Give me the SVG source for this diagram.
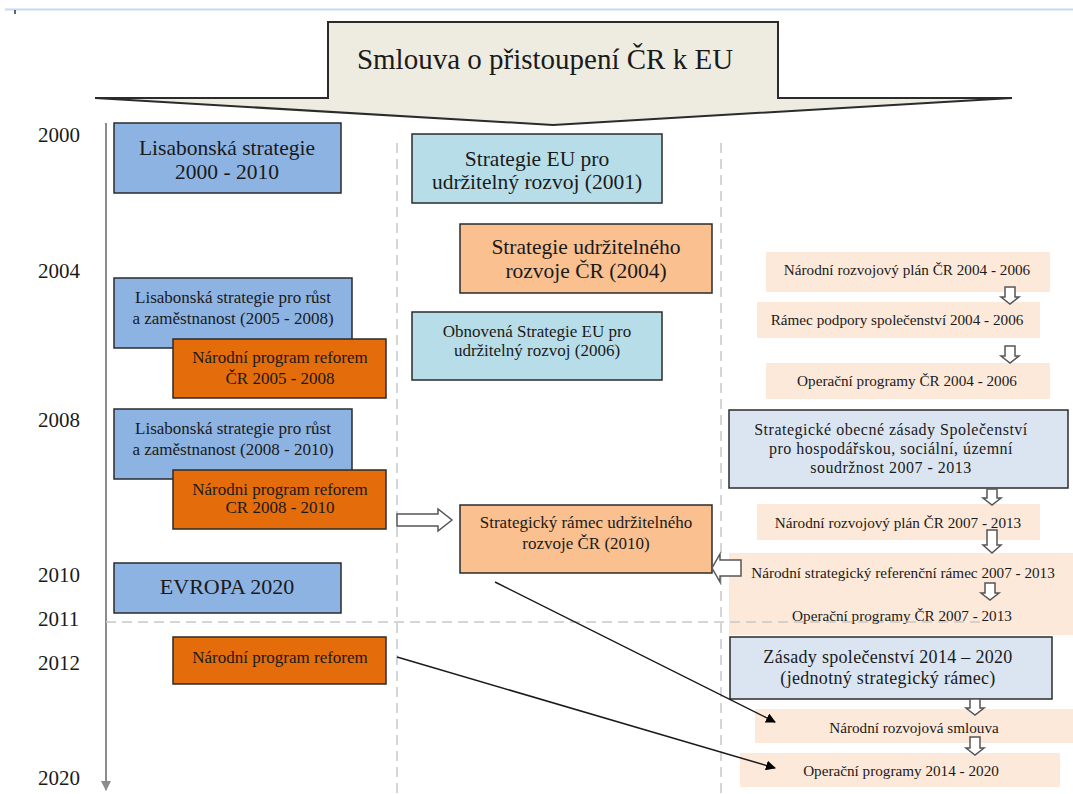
<svg xmlns="http://www.w3.org/2000/svg" width="1073" height="794" viewBox="0 0 1073 794">
  <style>
    text { font-family: "Liberation Serif", "Times New Roman", serif; fill: #1a1a1a; text-anchor: middle; }
    .yr { font-size: 21px; text-anchor: start; }
    .box { stroke: #2b2b2b; stroke-width: 1.5; }
    .blue { fill: #8db3e2; }
    .orange { fill: #e46c0a; }
    .cyan { fill: #b7dee8; }
    .peach { fill: #fac08f; }
    .pale { fill: #fde9d9; }
    .grey { fill: #dbe5f1; }
    .t22 { font-size: 21.5px; }
    .t18 { font-size: 18px; letter-spacing: 0.3px; }
    .t17 { font-size: 17px; }
    .t16 { font-size: 16px; letter-spacing: 0.5px; }
    .t15 { font-size: 15.2px; }
    .hollow { fill: #ffffff; stroke: #555555; stroke-width: 1.5; stroke-linejoin: miter; }
    .guide { stroke: #c8c8c8; stroke-width: 1.5; stroke-dasharray: 10 6; fill: none; }
    .link { stroke: #1a1a1a; stroke-width: 1.5; fill: none; }
  </style>
  <defs>
    <marker id="tri" viewBox="0 0 10 10" refX="9" refY="5" markerWidth="10" markerHeight="10" markerUnits="userSpaceOnUse" orient="auto">
      <path d="M0,0 L10,5 L0,10 z" fill="#000000"/>
    </marker>
    <marker id="axisHead" viewBox="0 0 10 10" refX="5" refY="9" markerWidth="12" markerHeight="10" markerUnits="userSpaceOnUse" orient="0">
      <path d="M0,0 L10,0 L5,10 z" fill="#8c8c8c"/>
    </marker>
  </defs>

  <rect width="1073" height="794" fill="#ffffff"/>

  <!-- page header rule -->
  <line x1="5" y1="9.5" x2="1073" y2="9.5" stroke="#c6d9f1" stroke-width="2"/>
  <line x1="15" y1="10" x2="15" y2="14" stroke="#333333" stroke-width="1.5"/>

  <!-- accession treaty: big downward arrow -->
  <g id="treaty">
    <path d="M328,22 L778,22 L778,98 L1012,98 L553,125 L95,98 L328,98 Z" fill="#eeece1" stroke="#2b2b2b" stroke-width="2" stroke-linejoin="miter"/>
    <text x="545" y="69" font-size="29">Smlouva o přistoupení ČR k EU</text>
  </g>

  <!-- timeline axis and column guides -->
  <g id="guides">
    <line x1="106" y1="123" x2="106" y2="790" stroke="#8c8c8c" stroke-width="2" marker-end="url(#axisHead)"/>
    <line class="guide" x1="397" y1="143" x2="397" y2="794"/>
    <line class="guide" x1="721" y1="143" x2="721" y2="794"/>
  </g>

  <!-- years -->
  <g id="years">
    <text class="yr" x="38" y="142">2000</text>
    <text class="yr" x="38" y="278">2004</text>
    <text class="yr" x="38" y="427">2008</text>
    <text class="yr" x="38" y="582">2010</text>
    <text class="yr" x="38" y="626">2011</text>
    <text class="yr" x="38" y="670">2012</text>
    <text class="yr" x="38" y="785">2020</text>
  </g>

  <!-- left column: Lisbon strategy and national reform programmes -->
  <g id="lisabon-2000">
    <rect class="box blue" x="114" y="123" width="227" height="70"/>
    <text class="t22" x="227" y="155">Lisabonská  strategie</text>
    <text class="t22" x="227" y="179">2000 - 2010</text>
  </g>
  <g id="lisabon-2005">
    <rect class="box blue" x="114" y="278" width="238" height="70"/>
    <text class="t17" x="233" y="303">Lisabonská strategie pro růst</text>
    <text class="t17" x="233" y="324">a zaměstnanost (2005 - 2008)</text>
  </g>
  <g id="npr-2005">
    <rect class="box orange" x="173" y="339" width="213" height="59"/>
    <text class="t17" x="280" y="363">Národní program reforem</text>
    <text class="t17" x="280" y="384">ČR 2005 - 2008</text>
  </g>
  <g id="lisabon-2008">
    <rect class="box blue" x="114" y="409" width="238" height="70"/>
    <text class="t17" x="233" y="434">Lisabonská strategie pro růst</text>
    <text class="t17" x="233" y="455">a zaměstnanost (2008 - 2010)</text>
  </g>
  <g id="npr-2008">
    <rect class="box orange" x="173" y="470" width="213" height="59"/>
    <text class="t17" x="280" y="495">Národni program reforem</text>
    <text class="t17" x="280" y="513">CR 2008 - 2010</text>
  </g>
  <g id="evropa-2020">
    <rect class="box blue" x="114" y="563" width="227" height="50"/>
    <text x="227" y="594" font-size="22">EVROPA 2020</text>
  </g>
  <g id="npr-2012">
    <rect class="box orange" x="173" y="637" width="213" height="47"/>
    <text class="t17" x="280" y="663">Národní program reforem</text>
  </g>

  <!-- middle column: sustainable development strategies -->
  <g id="eu-sds-2001">
    <rect class="box cyan" x="412" y="134" width="250" height="69"/>
    <text class="t22" x="537" y="166">Strategie EU pro</text>
    <text class="t22" x="537" y="189">udržitelný rozvoj (2001)</text>
  </g>
  <g id="cz-sds-2004">
    <rect class="box peach" x="460" y="224" width="252" height="69"/>
    <text class="t22" x="586" y="254">Strategie udržitelného</text>
    <text class="t22" x="586" y="278">rozvoje ČR (2004)</text>
  </g>
  <g id="eu-sds-2006">
    <rect class="box cyan" x="412" y="312" width="250" height="68"/>
    <text class="t17" x="537" y="337">Obnovená Strategie EU pro</text>
    <text class="t17" x="537" y="356">udržitelný rozvoj (2006)</text>
  </g>
  <g id="cz-framework-2010">
    <rect class="box peach" x="460" y="505" width="252" height="68"/>
    <text class="t17" x="586" y="528">Strategický rámec udržitelného</text>
    <text class="t17" x="586" y="549">rozvoje ČR (2010)</text>
  </g>

  <!-- right column: cohesion policy documents -->
  <g id="nrp-2004">
    <rect class="pale" x="766" y="252" width="284" height="40"/>
    <text class="t15" x="907" y="275">Národní rozvojový plán ČR 2004 - 2006</text>
  </g>
  <g id="csf-2004">
    <rect class="pale" x="757" y="302" width="283" height="36"/>
    <text class="t15" x="897" y="325">Rámec podpory společenství 2004 - 2006</text>
  </g>
  <g id="op-2004">
    <rect class="pale" x="766" y="363" width="284" height="36"/>
    <text class="t15" x="907" y="386">Operační programy ČR 2004 - 2006</text>
  </g>
  <g id="csg-2007">
    <rect class="box grey" x="729" y="410" width="339" height="78"/>
    <text class="t16" x="891" y="435">Strategické obecné zásady Společenství</text>
    <text class="t16" x="891" y="454">pro hospodářskou, sociální, územní</text>
    <text class="t16" x="891" y="473">soudržnost 2007 - 2013</text>
  </g>
  <g id="nrp-2007">
    <rect class="pale" x="757" y="504" width="283" height="36"/>
  </g>
  <g id="nsrf-2007">
    <rect class="pale" x="729" y="553" width="344" height="82"/>
  </g>
  <g id="csf-2014">
    <rect class="box grey" x="730" y="637" width="322" height="62"/>
    <text class="t18" x="888" y="663">Zásady společenství 2014 – 2020</text>
    <text class="t18" x="888" y="684">(jednotný strategický rámec)</text>
  </g>
  <g id="partnership">
    <rect class="pale" x="755" y="709" width="318" height="34"/>
    <text class="t15" x="914" y="733">Národní rozvojová smlouva</text>
  </g>
  <g id="op-2014">
    <rect class="pale" x="740" y="753" width="320" height="34"/>
    <text class="t15" x="901" y="776">Operační programy 2014 - 2020</text>
  </g>

  <!-- 2011 divider -->
  <line class="guide" x1="106" y1="622" x2="985" y2="622"/>

  <!-- connectors -->
  <g id="connectors">
    <!-- block arrows between documents -->
    <path class="hollow" d="M1005,287 L1015,287 L1015,297 L1019,297 L1010,304 L1001,297 L1005,297 Z"/>
    <path class="hollow" d="M1005,346 L1015,346 L1015,356 L1019,356 L1010,363 L1001,356 L1005,356 Z"/>
    <path class="hollow" d="M987,489 L997,489 L997,498 L1001,498 L992,505 L983,498 L987,498 Z"/>
    <path class="hollow" d="M987,530 L997,530 L997,545 L1001,545 L992,553 L983,545 L987,545 Z"/>
    <path class="hollow" d="M985,583 L995,583 L995,593 L999,593 L990,600 L981,593 L985,593 Z"/>
    <path class="hollow" d="M970,699 L980,699 L980,708 L984,708 L975,715 L966,708 L970,708 Z"/>
    <path class="hollow" d="M970,737 L980,737 L980,748 L984,748 L975,755 L966,748 L970,748 Z"/>
    <path class="hollow" d="M397,514 L438,514 L438,509 L452,520 L438,531 L438,526 L397,526 Z"/>
    <path class="hollow" d="M741,560 L720,560 L720,554 L712,568 L720,582 L720,576 L741,576 Z"/>
    <!-- text of the cohesion boxes drawn over the block arrows -->
    <text class="t15" x="898" y="528">Národní rozvojový plán ČR 2007 - 2013</text>
    <text class="t15" x="903" y="578">Národní strategický referenční rámec 2007 - 2013</text>
    <text class="t15" x="902" y="621">Operační programy ČR 2007 - 2013</text>
    <!-- links into the 2014-2020 programming -->
    <line class="link" x1="495" y1="582" x2="775" y2="722" marker-end="url(#tri)"/>
    <line class="link" x1="397" y1="657" x2="775" y2="768" marker-end="url(#tri)"/>
  </g>
</svg>
